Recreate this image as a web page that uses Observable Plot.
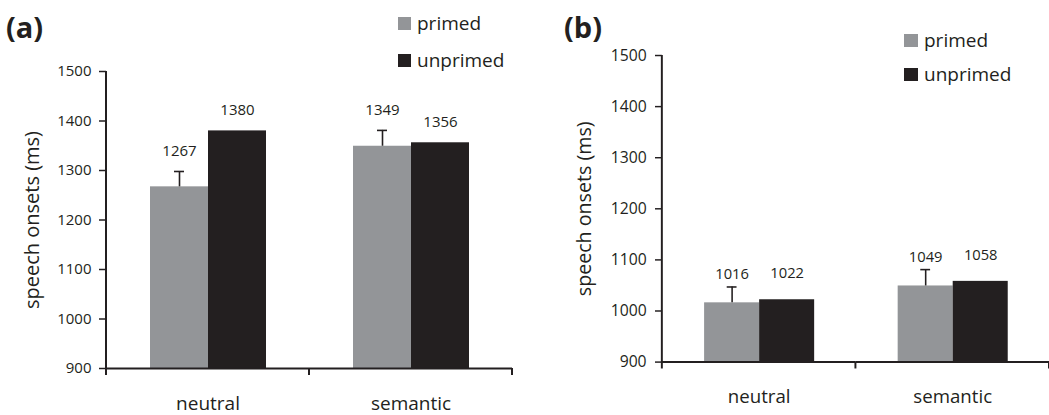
<!DOCTYPE html>
<html>
<head>
<meta charset="utf-8">
<script src="https://cdn.jsdelivr.net/npm/d3@7"></script>
<script src="https://cdn.jsdelivr.net/npm/@observablehq/plot@0.6"></script>
<style>
  body { margin: 0; background: #fff; font-family: "Open Sans", sans-serif; color: #231f20; }
  #wrap { position: relative; width: 1049px; height: 415px; overflow: hidden; display: flex; }
  .panel { position: relative; height: 415px; flex: none; }
  .plabel { position: absolute; font-weight: bold; font-size: 29px; line-height: 1; }
  .leg { position: absolute; font-size: 19px; line-height: 1; }
  .leg .row { display: flex; align-items: center; position: absolute; white-space: nowrap; }
  .leg .sw { display: inline-block; width: 13px; height: 13px; margin-right: 6px; }
</style>
</head>
<body>
<div id="wrap">
  <div id="pa" class="panel" style="width:540px"></div>
  <div id="pb" class="panel" style="width:509px"></div>
</div>
<script>
// ---- data ----
const categories = ["neutral", "semantic"];
const conditions = ["primed", "unprimed"];
const colors = ["#939598", "#231f20"];
const yTicks = [900, 1000, 1100, 1200, 1300, 1400, 1500];
const yLabel = "speech onsets (ms)";

const aPrimed = [1267, 1349];
const aUnprimed = [1380, 1356];
const aPrimedErr = [31, 32];

const bPrimed = [1016, 1049];
const bUnprimed = [1022, 1058];
const bPrimedErr = [31, 32];

const ink = "#231f20";

function rowsFor(primed, unprimed, err) {
  const rows = [];
  categories.forEach((c, i) => {
    rows.push({cat: c, cond: "primed", value: primed[i], err: err[i]});
    rows.push({cat: c, cond: "unprimed", value: unprimed[i], err: 0});
  });
  return rows;
}

function makePanel(el, cfg) {
  const rows = rowsFor(cfg.primed, cfg.unprimed, cfg.err);
  const pr = rows.filter(d => d.cond === "primed");
  const un = rows.filter(d => d.cond === "unprimed");
  const p = Plot.plot({
    width: cfg.width, height: 415,
    marginLeft: cfg.ml, marginRight: cfg.mr, marginTop: cfg.mt, marginBottom: 47,
    style: {fontFamily: "Open Sans", color: ink, background: "white", overflow: "visible"},
    fx: {domain: categories, padding: 0, axis: null, label: null},
    x: {domain: conditions, paddingInner: 0, paddingOuter: 0.74, axis: null},
    y: {domain: [900, 1500], axis: null},
    color: {domain: conditions, range: colors},
    marks: [
      Plot.barY(rows, {fx: "cat", x: "cond", y1: 900, y2: "value", fill: "cond"}),
      Plot.ruleX(pr, {fx: "cat", x: "cond", y1: "value", y2: d => d.value + d.err, stroke: ink, strokeWidth: 1.6}),
      Plot.tickY(pr, {fx: "cat", x: "cond", y: d => d.value + d.err, stroke: ink, strokeWidth: 1.6, insetLeft: cfg.capInset, insetRight: cfg.capInset}),
      Plot.text(pr, {fx: "cat", x: "cond", y: d => d.value + d.err, text: d => String(d.value), dy: cfg.dyP, fontSize: cfg.vfs, fill: ink}),
      Plot.text(un, {fx: "cat", x: "cond", y: "value", text: d => String(d.value), dy: cfg.dyU, fontSize: cfg.vfs, fill: ink}),
      Plot.ruleY([900], {stroke: ink, strokeWidth: 2}),
      Plot.axisY({ticks: yTicks, tickFormat: d => String(d), tickSize: 7, tickPadding: cfg.tp, fontSize: cfg.tfs, label: null, stroke: ink, strokeWidth: 1.5, color: ink}),
      Plot.axisY({ticks: [], tickSize: 0, label: yLabel, labelAnchor: "center", labelOffset: cfg.lo, labelArrow: "none", fontSize: 20, color: ink}),
      Plot.axisFx({anchor: "bottom", tickSize: 0, tickPadding: 28, fontSize: 19, label: null, color: ink})
    ]
  });
  // y-axis line and x-axis category boundary ticks, positioned through Plot's own scales
  const fx = p.scale("fx"), y = p.scale("y");
  const svg = d3.select(p.tagName.toLowerCase() === "svg" ? p : p.querySelector("svg"));
  const g = svg.append("g").attr("stroke", ink).attr("stroke-width", 2);
  const left = fx.apply(categories[0]);
  g.append("line").attr("x1", left).attr("x2", left).attr("y1", y.apply(900) + 1).attr("y2", y.apply(1500));
  const edges = categories.map(c => fx.apply(c)).concat([fx.apply(categories[categories.length - 1]) + fx.bandwidth]);
  edges.forEach(e => {
    g.append("line").attr("x1", e).attr("x2", e).attr("y1", y.apply(900)).attr("y2", y.apply(900) + 7);
  });
  el.appendChild(p);

  const lab = document.createElement("div");
  lab.className = "plabel";
  lab.textContent = cfg.tag;
  lab.style.left = cfg.tagX + "px";
  lab.style.top = cfg.tagY + "px";
  el.appendChild(lab);

  const leg = document.createElement("div");
  leg.className = "leg";
  leg.style.left = cfg.legX + "px";
  leg.style.top = cfg.legY + "px";
  conditions.forEach((c, i) => {
    const r = document.createElement("div");
    r.className = "row";
    r.style.top = (i * cfg.legGap) + "px";
    const sw = document.createElement("span");
    sw.className = "sw";
    sw.style.background = colors[i];
    sw.style.width = cfg.swW + "px";
    r.appendChild(sw);
    const t = document.createElement("span");
    t.textContent = c;
    r.appendChild(t);
    leg.appendChild(r);
  });
  el.appendChild(leg);
}

makePanel(document.getElementById("pa"), {
  width: 540, ml: 105, mr: 28, mt: 71,
  primed: aPrimed, unprimed: aUnprimed, err: aPrimedErr,
  capInset: 24, dyP: -20, dyU: -21, vfs: 15, tfs: 15, tp: 8, lo: 82,
  tag: "(a)", tagX: 6, tagY: 12,
  legX: 398, legY: 14, legGap: 37, swW: 13
});
makePanel(document.getElementById("pb"), {
  width: 518, ml: 124, mr: 0, mt: 56,
  primed: bPrimed, unprimed: bUnprimed, err: bPrimedErr,
  capInset: 23, dyP: -13, dyU: -27, vfs: 15, tfs: 16, tp: 9, lo: 87,
  tag: "(b)", tagX: 24, tagY: 12,
  legX: 364, legY: 31, legGap: 34, swW: 14
});
</script>
</body>
</html>
